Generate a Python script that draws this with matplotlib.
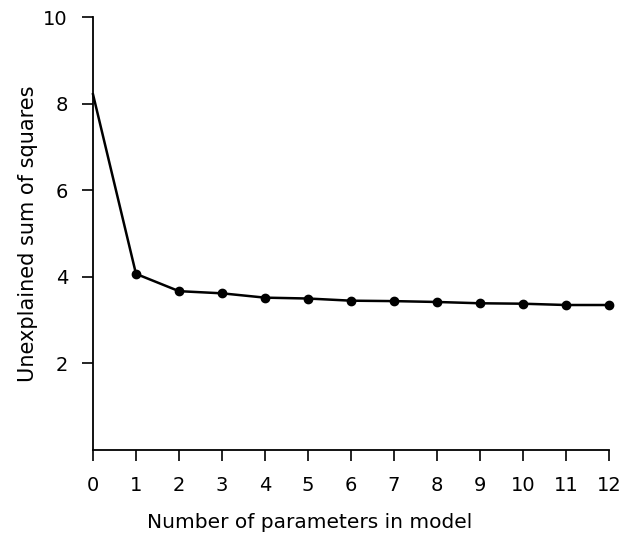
import matplotlib
matplotlib.use("Agg")
import matplotlib.pyplot as plt

n_params = [0, 1, 2, 3, 4, 5, 6, 7, 8, 9, 10, 11, 12]
unexplained_ss = [8.22, 4.07, 3.67, 3.62, 3.52, 3.50, 3.45, 3.44, 3.42, 3.39, 3.38, 3.35, 3.35]
y_ticks = [2, 4, 6, 8, 10]
x_ticks = n_params

plt.rcParams['font.family'] = ['DejaVu Sans']
fig = plt.figure(figsize=(6.22, 5.38), dpi=100)
ax = fig.add_axes([0.1495, 0.1636, 0.8295, 0.8044])

ax.plot(n_params, unexplained_ss, color='black', lw=1.8, marker='o', ms=6,
        markevery=list(range(1, len(n_params))), clip_on=False)

ax.set_xlim(0, 12)
ax.set_ylim(0, 10)
ax.set_xticks(x_ticks)
ax.set_yticks(y_ticks)
ax.spines['top'].set_visible(False)
ax.spines['right'].set_visible(False)
for s in ['left', 'bottom']:
    ax.spines[s].set_linewidth(1.3)
ax.tick_params(axis='x', direction='out', length=8, width=1.2, pad=11, labelsize=14)
ax.tick_params(axis='y', direction='out', length=8, width=1.2, pad=10, labelsize=14)
ax.set_xlabel('Number of parameters in model', fontsize=14.5, labelpad=13, x=0.42)
ax.set_ylabel('Unexplained sum of squares', fontsize=15, labelpad=4)

fig.savefig('out.png', dpi=100)
